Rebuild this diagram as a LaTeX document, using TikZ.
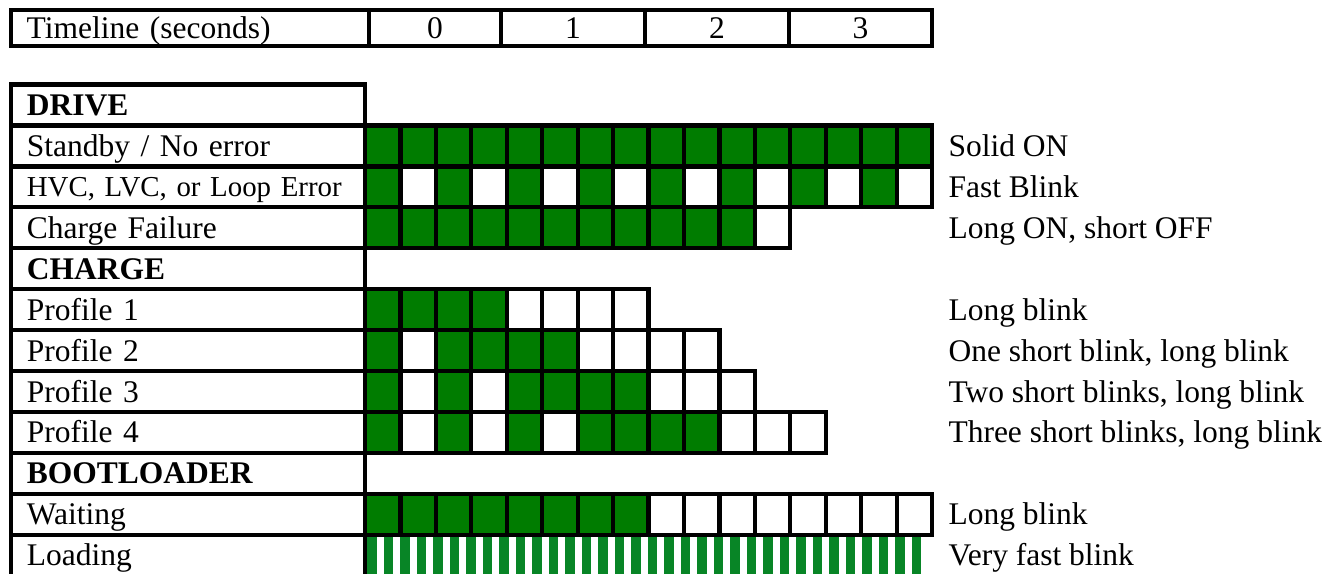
\documentclass[tikz,border=0pt]{standalone}
\usepackage{fontspec}
\setmainfont{Liberation Serif}
\usetikzlibrary{positioning}
\definecolor{ledOn}{HTML}{007C00}
\definecolor{ledFast}{HTML}{088526}
\newcommand{\pxu}{0.381pt}

\begin{document}
\begin{tikzpicture}[x=\pxu, y=-\pxu,
  box/.style={draw, line width=1.6pt, inner sep=0pt, outer sep=0pt, anchor=north west},
  cell/.style={box, minimum width=35.44*\pxu, minimum height=40.95*\pxu},
  lab/.style={box, minimum width=354*\pxu, minimum height=40.95*\pxu, text width=122.8pt, inner xsep=6pt, align=left, text height=7.9pt, text depth=0pt, font=\fontsize{12}{14}\selectfont},
  hd/.style={font=\bfseries\fontsize{12}{14}\selectfont},
  tl/.style={box, minimum height=36*\pxu, text height=7.9pt, text depth=0pt, font=\fontsize{12}{14}\selectfont},
  desc/.style={anchor=west, inner sep=0pt, text height=7.9pt, text depth=0pt, font=\fontsize{12}{14}\selectfont}]
\path[use as bounding box, clip] (0,0) rectangle (1338,573);

% timeline header
\node[tl, minimum width=358*\pxu, text width=124.4pt, inner xsep=6pt, align=left] (tlbl) at (11,10) {Timeline (seconds)};
\node[tl, minimum width=132*\pxu, right=0pt of tlbl] (t0) {0};
\node[tl, minimum width=144*\pxu, right=0pt of t0] (t1) {1};
\node[tl, minimum width=144*\pxu, right=0pt of t1] (t2) {2};
\node[tl, minimum width=143*\pxu, right=0pt of t2] (t3) {3};

% label column
\node[lab, hd] (drive) at (11,84.5) {DRIVE};
\node[lab, below=0pt of drive] (standby) {Standby / No error};
\node[lab, below=0pt of standby, font=\fontsize{11}{13}\selectfont, text height=7.3pt] (loop) {HVC, LVC, or Loop Error};
\node[lab, below=0pt of loop] (chfail) {Charge Failure};
\node[lab, hd, below=0pt of chfail] (charge) {CHARGE};
\node[lab, below=0pt of charge] (prof1) {Profile 1};
\node[lab, below=0pt of prof1] (prof2) {Profile 2};
\node[lab, below=0pt of prof2] (prof3) {Profile 3};
\node[lab, below=0pt of prof3] (prof4) {Profile 4};
\node[lab, hd, below=0pt of prof4] (boot) {BOOTLOADER};
\node[lab, below=0pt of boot] (waiting) {Waiting};
\node[lab, below=0pt of waiting] (loading) {Loading};

% blink patterns, 4 cells per second
\foreach \r/\pat in {1/{1,1,1,1,1,1,1,1,1,1,1,1,1,1,1,1},
                     2/{1,0,1,0,1,0,1,0,1,0,1,0,1,0,1,0},
                     3/{1,1,1,1,1,1,1,1,1,1,1,0},
                     5/{1,1,1,1,0,0,0,0},
                     6/{1,0,1,1,1,1,0,0,0,0},
                     7/{1,0,1,0,1,1,1,1,0,0,0},
                     8/{1,0,1,0,1,0,1,1,1,1,0,0,0},
                     10/{1,1,1,1,1,1,1,1,0,0,0,0,0,0,0,0}}{
  \foreach \b [count=\i from 0] in \pat {
    \ifnum\b=1 \def\fc{ledOn}\else\def\fc{white}\fi
    \node[cell, fill=\fc] (c-\r-\i) at ({365+35.44*\i},{84.5+40.95*\r}) {};
  }
}
% very fast blink
\foreach \k in {0,...,33}
  \fill[ledFast] ({367+16.5*\k},536.5) rectangle ++(9.5,40);

% descriptions
\coordinate (dx) at (948,0);
\node[desc] (d-standby) at (dx |- standby) {Solid ON};
\node[desc] (d-loop) at (dx |- loop) {Fast Blink};
\node[desc] (d-chfail) at (dx |- chfail) {Long ON, short OFF};
\node[desc] (d-prof1) at (dx |- prof1) {Long blink};
\node[desc] (d-prof2) at (dx |- prof2) {One short blink, long blink};
\node[desc] (d-prof3) at (dx |- prof3) {Two short blinks, long blink};
\node[desc] (d-prof4) at (dx |- prof4) {Three short blinks, long blink};
\node[desc] (d-waiting) at (dx |- waiting) {Long blink};
\node[desc] (d-loading) at (dx |- loading) {Very fast blink};
\end{tikzpicture}
\end{document}
